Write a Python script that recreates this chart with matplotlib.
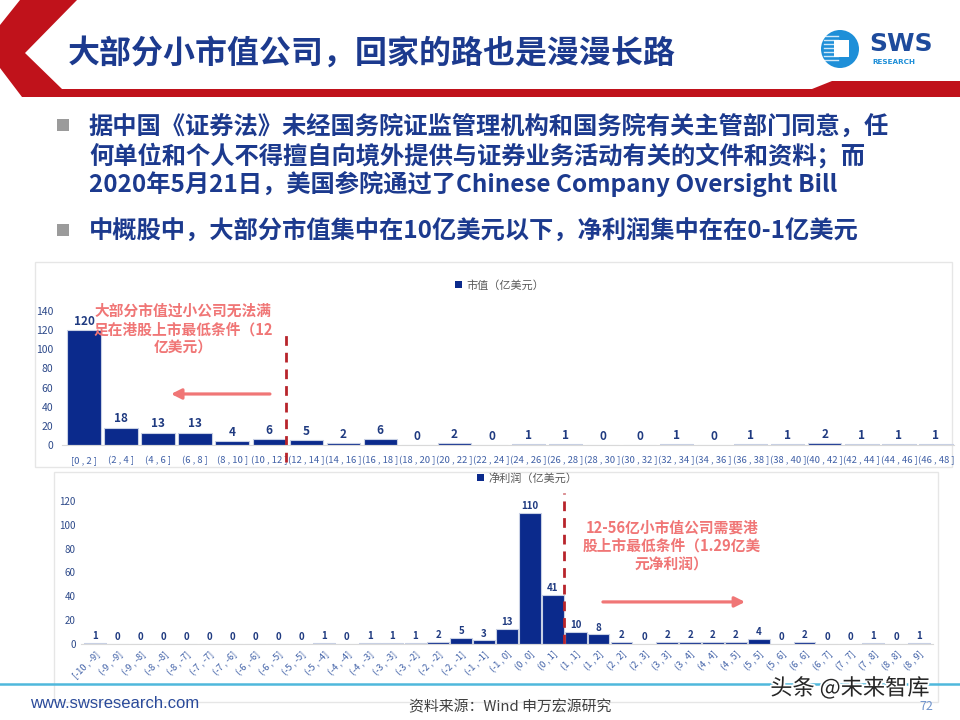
import matplotlib
matplotlib.use("Agg")
import matplotlib.pyplot as plt
from matplotlib.patches import Polygon, Rectangle, Circle
import matplotlib.patheffects as pe

plt.rcParams['font.family'] = ['Noto Sans CJK SC', 'DejaVu Sans']

# ---------------- data ----------------
mv_categories = ["[0 , 2 ]", "(2 , 4 ]", "(4 , 6 ]", "(6 , 8 ]", "(8 , 10 ]", "(10 , 12 ]",
                 "(12 , 14 ]", "(14 , 16 ]", "(16 , 18 ]", "(18 , 20 ]", "(20 , 22 ]", "(22 , 24 ]",
                 "(24 , 26 ]", "(26 , 28 ]", "(28 , 30 ]", "(30 , 32 ]", "(32 , 34 ]", "(34 , 36 ]",
                 "(36 , 38 ]", "(38 , 40 ]", "(40 , 42 ]", "(42 , 44 ]", "(44 , 46 ]", "(46 , 48 ]"]
mv_values = [120, 18, 13, 13, 4, 6, 5, 2, 6, 0, 2, 0, 1, 1, 0, 0, 1, 0, 1, 1, 2, 1, 1, 1]
mv_yticks = [0, 20, 40, 60, 80, 100, 120, 140]

np_categories = ["[-10 , -9]", "(-9 , -9]", "(-9 , -8]", "(-8 , -8]", "(-8 , -7]", "(-7 , -7]",
                 "(-7 , -6]", "(-6 , -6]", "(-6 , -5]", "(-5 , -5]", "(-5 , -4]", "(-4 , -4]",
                 "(-4 , -3]", "(-3 , -3]", "(-3 , -2]", "(-2 , -2]", "(-2 , -1]", "(-1 , -1]",
                 "(-1 , 0]", "(0 , 0]", "(0 , 1]", "(1 , 1]", "(1 , 2]", "(2 , 2]", "(2 , 3]",
                 "(3 , 3]", "(3 , 4]", "(4 , 4]", "(4 , 5]", "(5 , 5]", "(5 , 6]", "(6 , 6]",
                 "(6 , 7]", "(7 , 7]", "(7 , 8]", "(8 , 8]", "(8 , 9]"]
np_values = [1, 0, 0, 0, 0, 0, 0, 0, 0, 0, 1, 0, 1, 1, 1, 2, 5, 3, 13, 110, 41, 10, 8, 2, 0,
             2, 2, 2, 2, 4, 0, 2, 0, 0, 1, 0, 1]
np_yticks = [0, 20, 40, 60, 80, 100, 120]

title = "大部分小市值公司，回家的路也是漫漫长路"
bullet1 = ["据中国《证券法》未经国务院证监管理机构和国务院有关主管部门同意，任",
           "何单位和个人不得擅自向境外提供与证券业务活动有关的文件和资料；而",
           "2020年5月21日，美国参院通过了Chinese Company Oversight Bill"]
bullet2 = "中概股中，大部分市值集中在10亿美元以下，净利润集中在在0-1亿美元"
mv_legend = "市值（亿美元）"
np_legend = "净利润（亿美元）"
mv_note = "大部分市值过小公司无法满\n足在港股上市最低条件（12\n亿美元）"
np_note = "12-56亿小市值公司需要港\n股上市最低条件（1.29亿美\n元净利润）"

# ---------------- colors ----------------
NAVY = "#0B2A8C"
TEXT_NAVY = "#1C3A8E"
RED = "#C0121B"
SALMON = "#F07676"
DASH_RED = "#B8242B"
TICK_C = "#2E4A8A"
LBL_C = "#3E5FA6"

W, H = 960, 720
fig = plt.figure(figsize=(9.6, 7.2), dpi=100)
fig.patch.set_facecolor("white")

bg = fig.add_axes([0, 0, 1, 1])
bg.set_xlim(0, W)
bg.set_ylim(H, 0)
bg.axis("off")

def px_axes(left, top, right, bottom):
    return fig.add_axes([left / W, 1 - bottom / H, (right - left) / W, (bottom - top) / H])

# header shape
hdr = [(20, 0), (77, 0), (25, 53), (62, 89), (812, 89), (832, 81), (960, 81),
       (960, 97), (22, 97), (0, 68), (0, 25)]
bg.add_patch(Polygon(hdr, closed=True, facecolor=RED, edgecolor="none"))
bg.text(68, 54, title, fontsize=23, fontweight="bold", color=TEXT_NAVY,
        va="center", ha="left")

# logo
bg.add_patch(Circle((840, 49), 19, facecolor="#1E8FD8", edgecolor="none"))
for yy in range(36, 64, 4):
    bg.plot([824, 838], [yy, yy], color="white", lw=1.0, alpha=0.8)
bg.add_patch(Rectangle((834, 40), 15, 17, facecolor="white", edgecolor="none"))
bg.text(869, 44, "SWS", fontsize=18, fontweight="bold", color="#1E4B9C",
        family=["DejaVu Sans"], va="center", ha="left")
bg.text(872, 62, "RESEARCH", fontsize=5.2, fontweight="bold", color="#1E8FD8",
        family=["DejaVu Sans"], va="center", ha="left")

# bullets
bg.add_patch(Rectangle((57, 119), 12, 12, facecolor="#9B9B9B", edgecolor="none"))
for i, line in enumerate(bullet1):
    bg.text(89, 127 + i * 28.5, line, fontsize=17.5, fontweight="bold", color=TEXT_NAVY,
            va="center", ha="left")
bg.add_patch(Rectangle((57, 224), 12, 12, facecolor="#9B9B9B", edgecolor="none"))
bg.text(89, 231, bullet2, fontsize=17.5, fontweight="bold", color=TEXT_NAVY,
        va="center", ha="left")

# chart frames
bg.add_patch(Rectangle((35, 262), 917, 205, facecolor="none", edgecolor="#E6E6E6", lw=1))
bg.add_patch(Rectangle((54, 472), 884, 230, facecolor="none", edgecolor="#E6E6E6", lw=1))

# ---------------- top chart ----------------
x0, dx = 84.0, 37.04
ax1 = px_axes(x0 - 0.6 * dx, 311, x0 + 23.5 * dx, 445)
ax1.set_xlim(-0.6, 23.5)
ax1.set_ylim(0, 140)
ax1.patch.set_alpha(0)
xs1 = list(range(len(mv_values)))
ax1.bar(xs1, mv_values, width=0.9, color=NAVY, edgecolor="#C8D0E4", linewidth=0.8)
for x, v in zip(xs1, mv_values):
    ax1.text(x, v + 2.5, str(v), ha="center", va="bottom", fontsize=8.5,
             fontweight="bold", color="#1F3A80")
for s in ["top", "right", "left"]:
    ax1.spines[s].set_visible(False)
ax1.spines["bottom"].set_color("#D9D9D9")
ax1.set_yticks(mv_yticks)
ax1.set_yticklabels([str(t) for t in mv_yticks])
ax1.tick_params(axis="y", length=0, labelsize=7.5, labelcolor=TICK_C, pad=6)
ax1.set_xticks(xs1)
ax1.set_xticklabels(mv_categories)
ax1.tick_params(axis="x", length=0, labelsize=6.8, labelcolor=LBL_C, pad=8)
ax1.plot([5.45, 5.45], [-18, 120], color=DASH_RED, lw=2, ls=(0, (3.5, 2.5)), clip_on=False)
ax1.text(2.67, 121, mv_note, ha="center", va="center", fontsize=10.6, fontweight="bold",
         color=SALMON, linespacing=1.2)
ax1.annotate("", xy=(2.35, 53.3), xytext=(5.02, 53.3),
             arrowprops=dict(arrowstyle="-|>,head_length=0.6,head_width=0.3",
                             color=SALMON, lw=2.3, shrinkA=0, shrinkB=0))
bg.add_patch(Rectangle((455, 281), 7, 7, facecolor=NAVY, edgecolor="none"))
bg.text(466, 285, mv_legend, fontsize=8, color="#595959", va="center", ha="left")

# ---------------- bottom chart ----------------
x0b, dxb = 95.0, 22.89
ax2 = px_axes(x0b - 0.6 * dxb, 501, x0b + 36.6 * dxb, 644)
ax2.set_xlim(-0.6, 36.6)
ax2.set_ylim(0, 120)
ax2.patch.set_alpha(0)
xs2 = list(range(len(np_values)))
ax2.bar(xs2, np_values, width=0.95, color=NAVY, edgecolor="#C8D0E4", linewidth=0.8)
for x, v in zip(xs2, np_values):
    ax2.text(x, v + 1.5, str(v), ha="center", va="bottom", fontsize=7,
             fontweight="bold", color="#1F3A80")
for s in ["top", "right", "left"]:
    ax2.spines[s].set_visible(False)
ax2.spines["bottom"].set_color("#D9D9D9")
ax2.set_yticks(np_yticks)
ax2.set_yticklabels([str(t) for t in np_yticks])
ax2.tick_params(axis="y", length=0, labelsize=7, labelcolor=TICK_C, pad=4)
ax2.set_xticks(xs2)
ax2.set_xticklabels(np_categories, rotation=45, ha="right", rotation_mode="anchor")
ax2.tick_params(axis="x", length=0, labelsize=6.6, labelcolor=LBL_C, pad=4)
ax2.plot([20.48, 20.48], [0, 127], color=DASH_RED, lw=2, ls=(0, (3.5, 2.5)), clip_on=False)
ax2.text(25.2, 82.4, np_note, ha="center", va="center", fontsize=10.6, fontweight="bold",
         color=SALMON, linespacing=1.2)
ax2.annotate("", xy=(28.4, 35.3), xytext=(22.19, 35.3),
             arrowprops=dict(arrowstyle="-|>,head_length=0.6,head_width=0.3",
                             color=SALMON, lw=2.3, shrinkA=0, shrinkB=0))
bg.add_patch(Rectangle((477, 474), 7, 7, facecolor=NAVY, edgecolor="none"))
bg.text(488, 478, np_legend, fontsize=8, color="#595959", va="center", ha="left")

# ---------------- footer ----------------
bg.plot([0, 960], [684, 684], color="#4FB8DC", lw=1.8)
bg.text(30, 703, "www.swsresearch.com", fontsize=12, color="#2A4A9A",
        family=["Liberation Sans", "DejaVu Sans"], va="center", ha="left")
bg.text(510, 707, "资料来源：Wind 申万宏源研究", fontsize=10.7, color="#404040",
        va="center", ha="center")
bg.text(926, 706, "72", fontsize=9, color="#6F93CC", va="center", ha="center")
bg.text(850, 688, "头条 @未来智库", fontsize=16, color="#262626", va="center", ha="center",
        path_effects=[pe.withStroke(linewidth=2.5, foreground="white")])

fig.savefig("out.png", dpi=100, facecolor="white")
